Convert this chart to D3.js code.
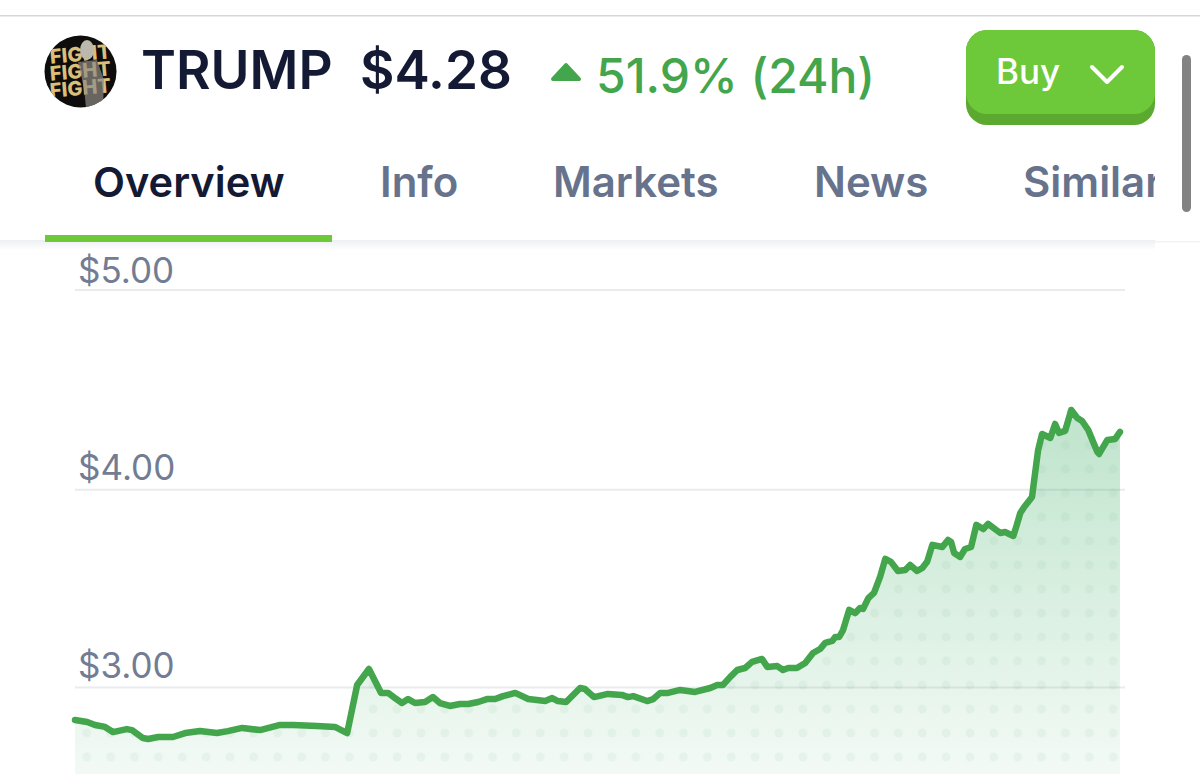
<!DOCTYPE html>
<html>
<head>
<meta charset="utf-8">
<script src="https://cdn.jsdelivr.net/npm/d3@7"></script>
<style>
  html, body { margin: 0; padding: 0; background: #fff; overflow: hidden; }
  text { font-family: Inter, "Noto Sans", sans-serif; }
</style>
</head>
<body>
<div id="chart"></div>
<script>
// hours since the start of the 24h window
const hours = [0,.28,.46,.69,.87,1.19,1.31,1.56,1.68,1.91,2.25,2.53,2.87,3.26,3.51,3.84,4.25,4.71,5.01,5.56,5.97,6.25,6.48,6.75,7.03,7.19,7.35,7.51,7.65,7.81,8.04,8.22,8.38,8.61,8.84,9.03,9.26,9.46,9.65,9.83,10.11,10.41,10.80,10.96,11.09,11.28,11.60,11.71,11.92,12.24,12.56,12.70,12.82,13.14,13.28,13.44,13.62,13.90,14.24,14.59,14.75,14.88,15.05,15.21,15.39,15.55,15.78,15.90,16.13,16.26,16.38,16.58,16.77,16.95,17.11,17.23,17.39,17.46,17.55,17.64,17.78,17.92,18.03,18.10,18.22,18.35,18.49,18.61,18.74,18.90,19.07,19.18,19.34,19.46,19.57,19.69,19.92,20.05,20.12,20.19,20.33,20.44,20.58,20.70,20.86,20.97,21.25,21.36,21.55,21.61,21.71,21.80,21.98,22.03,22.12,22.21,22.40,22.51,22.60,22.74,22.88,23.02,23.13,23.27,23.48,23.52,23.71,23.89,24];

const prices = [2.833,2.823,2.808,2.798,2.772,2.787,2.782,2.742,2.737,2.747,2.747,2.767,2.777,2.767,2.777,2.793,2.782,2.808,2.808,2.803,2.798,2.767,3.010,3.091,2.970,2.970,2.944,2.919,2.939,2.919,2.924,2.949,2.919,2.904,2.914,2.914,2.924,2.939,2.939,2.954,2.970,2.939,2.929,2.944,2.929,2.924,2.995,2.990,2.949,2.965,2.960,2.949,2.954,2.929,2.939,2.970,2.970,2.985,2.975,2.995,3.010,3.010,3.051,3.086,3.096,3.127,3.142,3.101,3.106,3.086,3.096,3.096,3.121,3.172,3.192,3.223,3.233,3.253,3.253,3.288,3.390,3.374,3.400,3.395,3.450,3.476,3.557,3.648,3.633,3.587,3.592,3.617,3.587,3.602,3.633,3.719,3.708,3.744,3.734,3.678,3.658,3.698,3.708,3.820,3.799,3.825,3.779,3.784,3.764,3.805,3.880,3.911,3.961,4.047,4.197,4.277,4.257,4.327,4.282,4.292,4.397,4.357,4.342,4.297,4.187,4.177,4.247,4.252,4.287];

const priceTicks = [3, 4, 5];
const tabs = ["Overview", "Info", "Markets", "News", "Similar"];
const tabX = [93, 380, 553, 814, 1023];
const iconLines = ["FIGHT", "FIGHT", "FIGHT"];

const width = 1200, height = 774;
const points = hours.map((h, i) => ({ h: h, p: prices[i] }));

const svg = d3.select("#chart").append("svg")
    .attr("width", width)
    .attr("height", height)
    .style("display", "block");

const defs = svg.append("defs");

// Scales
const x = d3.scaleLinear().domain([0, 24]).range([75, 1120]);
const y = d3.scaleLinear().domain([3, 4, 5]).range([687, 489.3, 289.5]);

// Area fill fades out towards the bottom
const grad = defs.append("linearGradient")
    .attr("id", "areaFill")
    .attr("gradientUnits", "userSpaceOnUse")
    .attr("x1", 0).attr("x2", 0).attr("y1", 405).attr("y2", 790);
grad.append("stop").attr("offset", "0%").attr("stop-color", "#3fae66").attr("stop-opacity", 0.34);
grad.append("stop").attr("offset", "100%").attr("stop-color", "#3fae66").attr("stop-opacity", 0.05);

const dots = defs.append("pattern")
    .attr("id", "dots")
    .attr("patternUnits", "userSpaceOnUse")
    .attr("x", 74.8).attr("y", 673)
    .attr("width", 23.87).attr("height", 24);
dots.append("circle")
    .attr("cx", 11.93).attr("cy", 12).attr("r", 4.5)
    .attr("fill", "#5f9f78").attr("fill-opacity", 0.08);

// Grid lines + price labels
const yAxis = d3.axisRight(y)
    .tickValues(priceTicks)
    .tickSize(1050)
    .tickFormat(d => "$" + d.toFixed(2));

const axisG = svg.append("g")
    .attr("transform", "translate(75,0)")
    .call(yAxis);
axisG.select(".domain").remove();
axisG.selectAll("line").attr("stroke", "#e9ebef").attr("stroke-width", 2);
axisG.selectAll("text")
    .attr("x", 3)
    .attr("dy", d => d === 5 ? -7 : -10)  // top label sits closer to its line
    .attr("text-anchor", "start")
    .style("font-size", "35px")
    .style("font-family", "Inter, sans-serif")
    .attr("fill", "#727c93");

// Area and line
const area = d3.area()
    .x(d => x(d.h))
    .y0(height + 10)
    .y1(d => y(d.p));

const line = d3.line()
    .x(d => x(d.h))
    .y(d => y(d.p));

svg.append("path").datum(points).attr("d", area).attr("fill", "url(#areaFill)");
svg.append("path").datum(points).attr("d", area).attr("fill", "url(#dots)");
svg.append("path").datum(points)
    .attr("d", line)
    .attr("fill", "none")
    .attr("stroke", "#43a54c")
    .attr("stroke-width", 6.5)
    .attr("stroke-linejoin", "round")
    .attr("stroke-linecap", "round");

// Header panel sits over the chart
const shadow = defs.append("linearGradient")
    .attr("id", "headShadow").attr("x1", 0).attr("x2", 0).attr("y1", 0).attr("y2", 1);
shadow.append("stop").attr("offset", "0%").attr("stop-color", "#edeff3");
shadow.append("stop").attr("offset", "100%").attr("stop-color", "#ffffff");

svg.append("rect").attr("x", 0).attr("y", 240).attr("width", 1155).attr("height", 10).attr("fill", "url(#headShadow)");
svg.append("rect").attr("x", 1155).attr("y", 241).attr("width", 45).attr("height", 1.5).attr("fill", "#f2f3f6");
svg.append("rect").attr("x", 0).attr("y", 15).attr("width", width).attr("height", 1.5).attr("fill", "#d6d6d6");

// Coin icon
defs.append("clipPath").attr("id", "iconClip")
    .append("circle").attr("cx", 80.5).attr("cy", 71.5).attr("r", 36);
const icon = svg.append("g").attr("clip-path", "url(#iconClip)");
icon.append("rect").attr("x", 44).attr("y", 35).attr("width", 73).attr("height", 73).attr("fill", "#0e0d0b");
icon.selectAll("text").data(iconLines).join("text")
    .attr("x", 81)
    .attr("y", (d, i) => 61 + i * 17)
    .attr("text-anchor", "middle")
    .attr("transform", (d, i) => "rotate(-5 81 " + (61 + i * 17) + ")")
    .attr("fill", "#d9bf78")
    .style("font-size", "20px")
    .style("font-weight", 800)
    .text(d => d);
// rough figure over the lettering
icon.append("ellipse").attr("cx", 87).attr("cy", 50).attr("rx", 7).attr("ry", 10).attr("fill", "#bdb8ac");
icon.append("path")
    .attr("d", "M78,62 L97,60 L104,80 L103,108 L86,108 L84,88 Z")
    .attr("fill", "#8f8c86").attr("fill-opacity", 0.7);

// Name, price, change
svg.append("text").attr("x", 141).attr("y", 89)
    .attr("fill", "#141a33").style("font-size", "53px").style("font-weight", 600).text("TRUMP");
svg.append("text").attr("x", 360).attr("y", 89)
    .attr("fill", "#141a33").style("font-size", "53px").style("font-weight", 600).text("$4.28");

svg.append("path")
    .attr("d", d3.line()([[566, 65], [579, 79], [553, 79]]) + "Z")
    .attr("fill", "#43a54c").attr("stroke", "#43a54c")
    .attr("stroke-width", 4).attr("stroke-linejoin", "round");
svg.append("text").attr("x", 596).attr("y", 93)
    .attr("fill", "#43a54c").style("font-size", "48px").style("font-weight", 500).text("51.9% (24h)");

// Buy button
svg.append("rect").attr("x", 966).attr("y", 30).attr("width", 189).attr("height", 95).attr("rx", 21).attr("fill", "#5ca92f");
svg.append("rect").attr("x", 966).attr("y", 30).attr("width", 189).attr("height", 84).attr("rx", 21).attr("fill", "#6dc93a");
svg.append("text").attr("x", 996).attr("y", 84)
    .attr("fill", "#ffffff").style("font-size", "35px").style("font-weight", 500).text("Buy");
svg.append("path")
    .attr("d", d3.line()([[1092, 67], [1107, 82], [1122, 67]]))
    .attr("fill", "none").attr("stroke", "#ffffff").attr("stroke-width", 4)
    .attr("stroke-linecap", "round").attr("stroke-linejoin", "round");

// Tabs
defs.append("clipPath").attr("id", "tabClip")
    .append("rect").attr("x", 0).attr("y", 140).attr("width", 1155).attr("height", 90);
svg.append("g").attr("clip-path", "url(#tabClip)")
    .selectAll("text").data(tabs).join("text")
    .attr("x", (d, i) => tabX[i])
    .attr("y", 197)
    .attr("fill", (d, i) => i === 0 ? "#141a33" : "#67738c")
    .style("font-size", (d, i) => i === 0 ? "41.6px" : "42px")
    .style("font-weight", 600)
    .text(d => d);
svg.append("rect").attr("x", 45).attr("y", 235).attr("width", 287).attr("height", 7).attr("fill", "#6dc93a");

// Scrollbar
svg.append("rect").attr("x", 1182).attr("y", 55).attr("width", 9).attr("height", 157).attr("rx", 4.5).attr("fill", "#828282");
</script>
</body>
</html>
